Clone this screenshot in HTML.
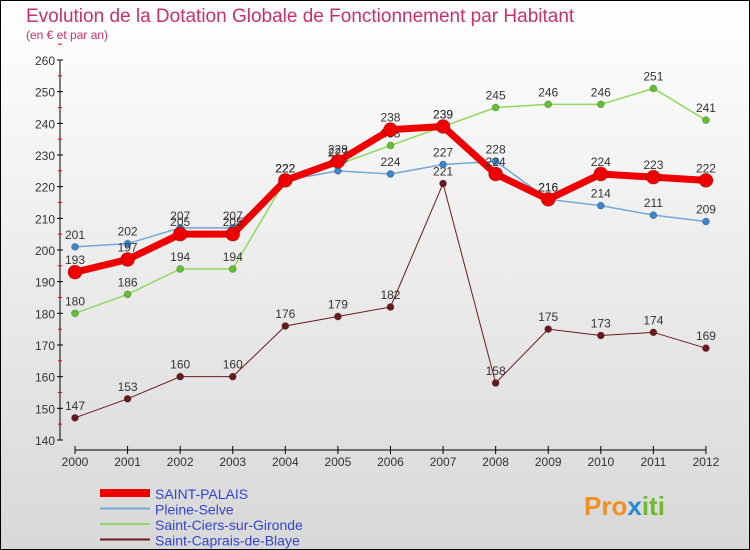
<!DOCTYPE html>
<html><head><meta charset="utf-8"><style>
body{margin:0;width:750px;height:550px;overflow:hidden;font-family:"Liberation Sans",sans-serif}
#wrap{position:absolute;left:0;top:0;width:748px;height:548px;border:1px solid #000;background:linear-gradient(#fff,#d8d8d8)}
</style></head><body>
<div id="wrap">
<svg width="750" height="550" style="position:absolute;left:-1px;top:-1px">
<text x="26" y="22" font-size="19" fill="#c8306a">Evolution de la Dotation Globale de Fonctionnement par Habitant</text>
<text x="26" y="39" font-size="12" fill="#c8306a">(en € et par an)</text>
<g id="axes"></g><g id="series"></g><g id="legend"></g>
<text x="584" y="515" font-size="26" font-weight="bold" fill="#f09020">Pro<tspan fill="#2a8ad8">x</tspan><tspan fill="#70b830">iti</tspan></text>
</svg></div>
<script>
const years=[2000,2001,2002,2003,2004,2005,2006,2007,2008,2009,2010,2011,2012];
const names=["SAINT-PALAIS","Pleine-Selve","Saint-Ciers-sur-Gironde","Saint-Caprais-de-Blaye"];
const palais=[193,197,205,205,222,228,238,239,224,216,224,223,222];
const pleine=[201,202,207,207,222,225,224,227,228,216,214,211,209];
const ciers=[180,186,194,194,222,227,233,239,245,246,246,251,241];
const caprais=[147,153,160,160,176,179,182,221,158,175,173,174,169];
const yTicks=[140,150,160,170,180,190,200,210,220,230,240,250,260];
const NS="http://www.w3.org/2000/svg";
const X=i=>75+i*52.58, Y=v=>440-(v-140)*380/120;
function mk(t,a,p){const e=document.createElementNS(NS,t);for(const k in a)e.setAttribute(k,a[k]);p.appendChild(e);return e;}
const ax=document.getElementById('axes');
let l=mk('line',{x1:60,y1:Y(260),x2:60,y2:Y(140),stroke:'#000'},ax);


yTicks.forEach(v=>{
 const t=mk('line',{x1:57,x2:63,y1:Y(v),y2:Y(v),stroke:'#000'},ax);
 
 
 const r=mk('line',{x1:58,x2:62,y1:Y(v+5),y2:Y(v+5),stroke:'#e00'},ax);
 
 
 const tx=mk('text',{x:55,y:Y(v)+5,'text-anchor':'end','font-size':12,fill:'#333'},ax);
 tx.textContent=v;
 
 
});
l=mk('line',{x1:X(0),x2:X(12),y1:450,y2:450,stroke:'#000'},ax);


years.forEach((y,i)=>{
 const t=mk('line',{x1:X(i),x2:X(i),y1:446,y2:454,stroke:'#000'},ax);
 
 
 const tx=mk('text',{x:X(i),y:466,'text-anchor':'middle','font-size':12,fill:'#333'},ax);
 tx.textContent=y;
 
 
});
const sg=document.getElementById('series');
const defs=[[caprais,'#6a1a1a','#6a1a1a',1,3.5],[ciers,'#90d860','#60c030',1.5,3.5],[pleine,'#70a8d8','#3a88c8',1.5,3.5],[palais,'#ee0000','#ee0000',7,7]];
const keys=['caprais','ciers','pleine','palais'];
defs.forEach(([d,c,pc,w,r],k)=>{
 const p=mk('polyline',{points:d.map((v,i)=>X(i)+','+Y(v)).join(' '),fill:'none',stroke:c,'stroke-width':w},sg);
 
 
 d.forEach((v,i)=>{
  const ci=mk('circle',{cx:X(i),cy:Y(v),r:r,fill:pc,stroke:'#0003'},sg);
  
  
  const tx=mk('text',{x:X(i),y:Y(v)-8,'text-anchor':'middle','font-size':12,fill:'#333'},sg);
  tx.textContent=v;
  
  
 });
});
const lg=document.getElementById('legend');
const lc=['#ee0000','#70a8d8','#90d860','#6a1a1a'],lw=[8,2,2,2];
names.forEach((n,i)=>{
 const y=493+i*15.5;
 const ln=mk('line',{x1:100,x2:150,y1:y,y2:y,stroke:lc[i],'stroke-width':lw[i]},lg);
 
 
 const tx=mk('text',{x:155,y:y+6,'font-size':14,fill:'#3344cc'},lg);
 tx.textContent=n;
 
 
});
</script>
</body></html>
